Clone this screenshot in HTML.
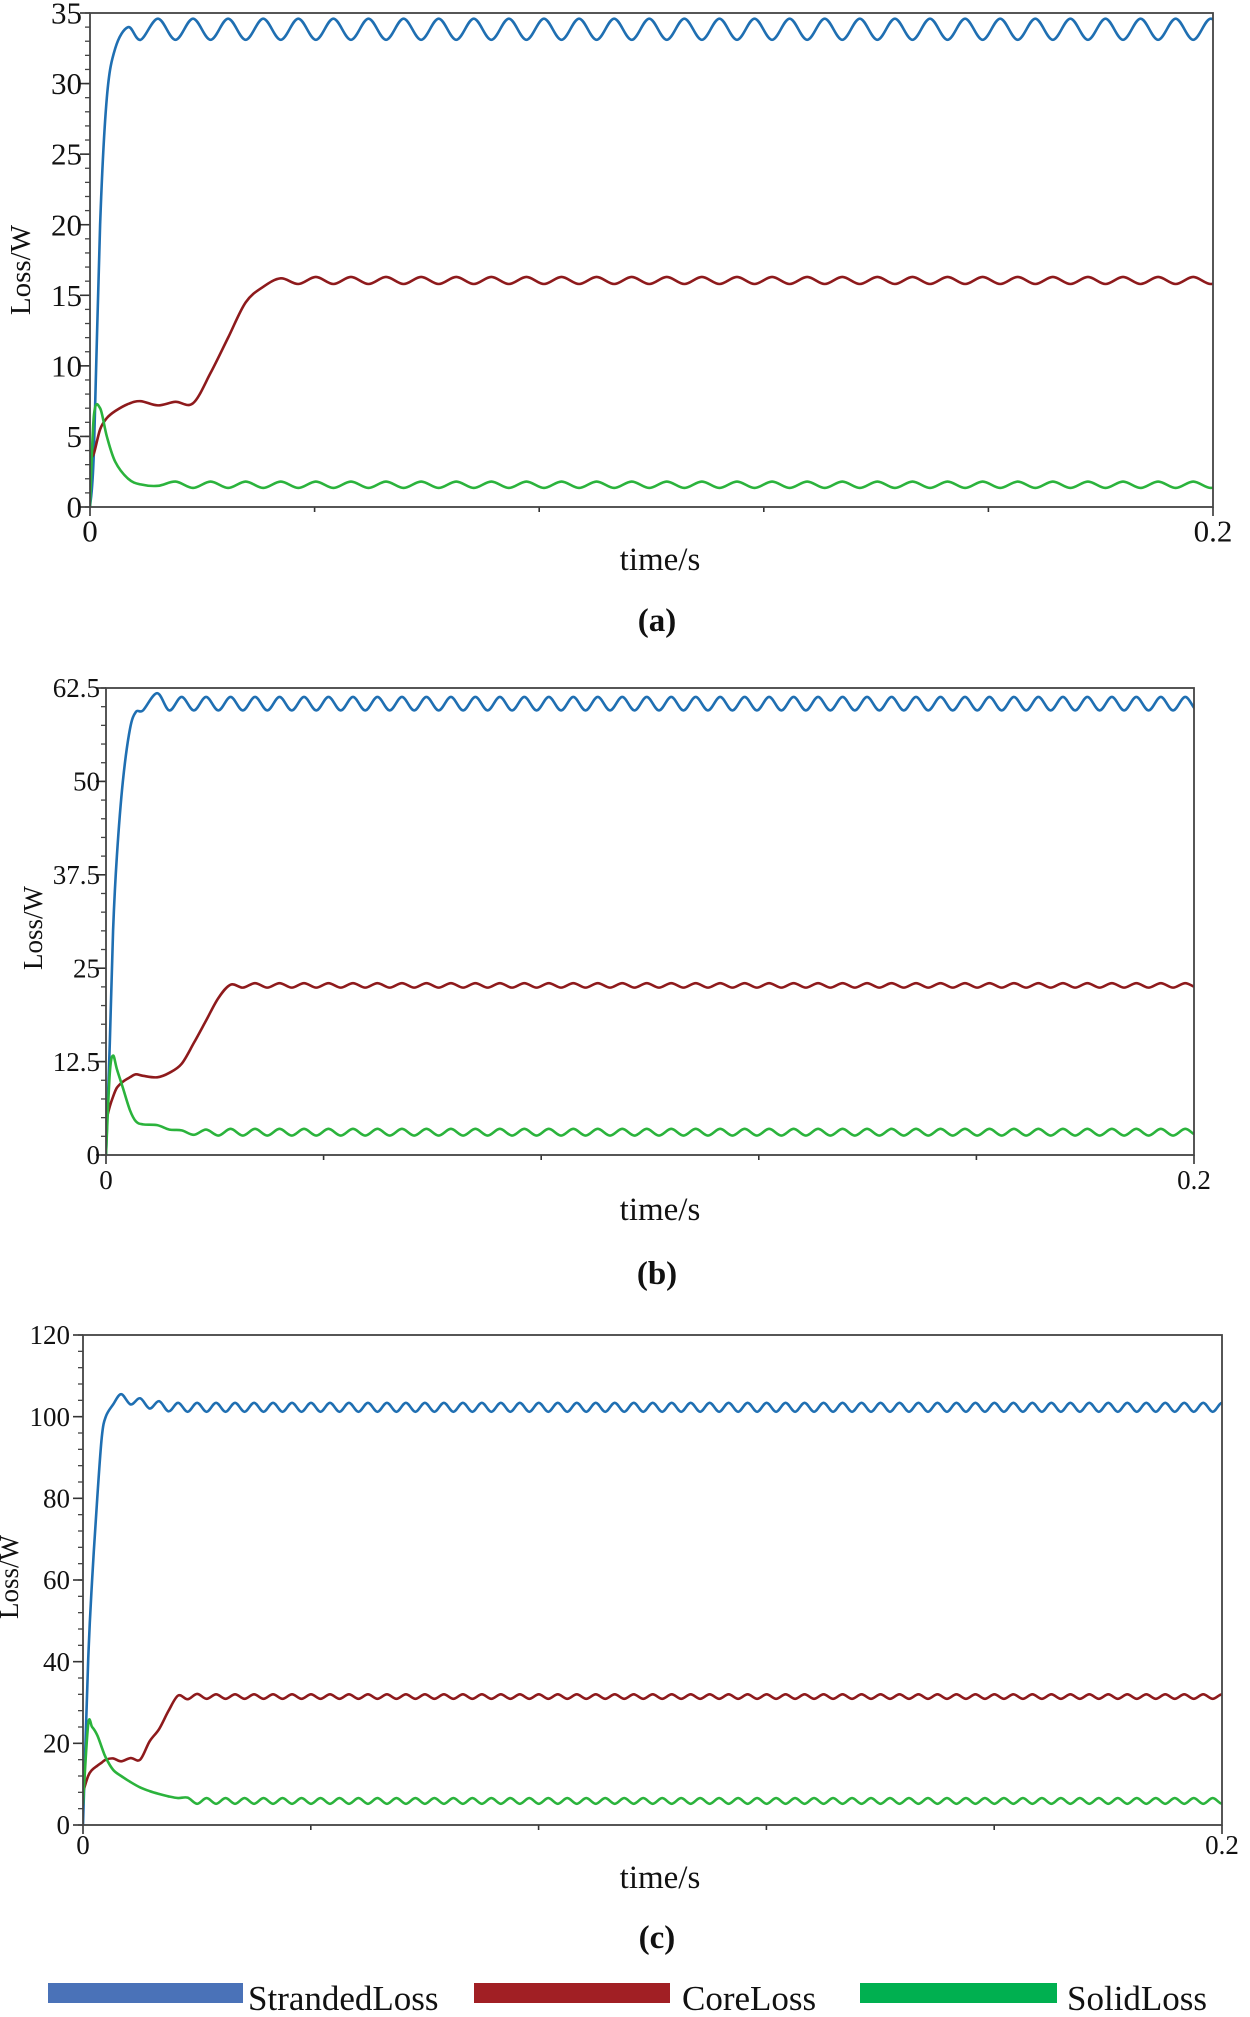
<!DOCTYPE html>
<html><head><meta charset="utf-8"><title>Loss curves</title>
<style>
html,body{margin:0;padding:0;background:#fff;}
svg{display:block;}
text{font-family:"Liberation Serif","DejaVu Serif",serif;fill:#111;}
</style></head>
<body>
<svg id="chart" width="1250" height="2017" viewBox="0 0 1250 2017" xmlns="http://www.w3.org/2000/svg">
<defs>
<clipPath id="clipA"><rect x="90" y="13" width="1123" height="494"/></clipPath>
<clipPath id="clipB"><rect x="106" y="688" width="1088" height="467"/></clipPath>
<clipPath id="clipC"><rect x="83" y="1335" width="1139" height="490"/></clipPath>
</defs>
<g id="panelA"></g>
<g id="panelB"></g>
<g id="panelC"></g>
<g id="legend">
<g>
<rect x="48" y="1983" width="195" height="20" fill="#4a72b8"/>
<text x="248" y="2010" font-size="35">StrandedLoss</text></g>
<g>
<rect x="474" y="1983" width="196" height="20" fill="#a11f24"/>
<text x="682" y="2010" font-size="35">CoreLoss</text></g>
<g>
<rect x="860" y="1983" width="197" height="20" fill="#00b050"/>
<text x="1067" y="2010" font-size="35">SolidLoss</text></g>
</g>
</svg>
<script>
// ---------- shared x-axis ----------
const xTickValues=[0,0.04,0.08,0.12,0.16,0.2];
const xTickLabels=["0","","","","","0.2"];

// ---------- panel (a) data ----------
const aStartTimes=[0,0.0007,0.0018,0.003,0.0045,0.0068,0.009];
const aSteadyStart=0.0121;
const aSteadyStep=0.003125;
const aYTicks=[0,5,10,15,20,25,30,35];
const aStranded=[0,4,20,29,32.5,34.0,33.1,
34.6,33.1,34.6,33.1,34.6,33.1,34.6,33.1,34.6,33.1,
34.6,33.1,34.6,33.1,34.6,33.1,34.6,33.1,34.6,33.1,
34.6,33.1,34.6,33.1,34.6,33.1,34.6,33.1,34.6,33.1,
34.6,33.1,34.6,33.1,34.6,33.1,34.6,33.1,34.6,33.1,
34.6,33.1,34.6,33.1,34.6,33.1,34.6,33.1,34.6,33.1,
34.6,33.1,34.6,33.1,34.6,33.1,34.6,33.1,34.6,33.1,
34.6,33.1];
const aCore=[3.4,3.8,5.5,6.3,6.8,7.3,7.5,
7.2,7.45,7.35,9.5,12,14.5,15.6,16.2,15.8,
16.3,15.8,16.3,15.8,16.3,15.8,16.3,15.8,16.3,15.8,
16.3,15.8,16.3,15.8,16.3,15.8,16.3,15.8,16.3,15.8,
16.3,15.8,16.3,15.8,16.3,15.8,16.3,15.8,16.3,15.8,
16.3,15.8,16.3,15.8,16.3,15.8,16.3,15.8,16.3,15.8,
16.3,15.8,16.3,15.8,16.3,15.8,16.3,15.8,16.3,15.8,
16.3,15.8,16.3];
const aSolid=[0,6.5,7.0,5.0,3.2,2.0,1.6,
1.5,1.8,
1.35,1.8,1.35,1.8,1.35,1.8,1.35,1.8,1.35,1.8,
1.35,1.8,1.35,1.8,1.35,1.8,1.35,1.8,1.35,1.8,
1.35,1.8,1.35,1.8,1.35,1.8,1.35,1.8,1.35,1.8,
1.35,1.8,1.35,1.8,1.35,1.8,1.35,1.8,1.35,1.8,
1.35,1.8,1.35,1.8,1.35,1.8,1.35,1.8,1.35,1.8,
1.35,1.8,1.35,1.8,1.35,1.8,1.35,1.8,
1.35,1.8];

// ---------- panel (b) data ----------
const bStartTimes=[0,0.0007,0.0013,0.002,0.0031,0.0044,0.0055,0.0068];
const bSteadyStart=0.0094;
const bSteadyStep=0.00225;
const bYTicks=[0,12.5,25,37.5,50,62.5];
const bStranded=[0,15,30,40,50,57,59.3,59.5,
61.8,59.5,
61.3,59.5,61.3,59.5,61.3,59.5,61.3,59.5,61.3,59.5,
61.3,59.5,61.3,59.5,61.3,59.5,61.3,59.5,61.3,59.5,
61.3,59.5,61.3,59.5,61.3,59.5,61.3,59.5,61.3,59.5,
61.3,59.5,61.3,59.5,61.3,59.5,61.3,59.5,61.3,59.5,
61.3,59.5,61.3,59.5,61.3,59.5,61.3,59.5,61.3,59.5,
61.3,59.5,61.3,59.5,61.3,59.5,61.3,59.5,61.3,59.5,
61.3,59.5,61.3,59.5,61.3,59.5,61.3,59.5,61.3,59.5,
61.3,59.5,61.3,59.5,61.3,59.5,61.3,59.5,61.3,59.5,
61.3,59.5,61.3,59.5,61.3,59.5];
const bCore=[4.5,6.5,7.8,9.0,9.8,10.4,10.8,10.6,
10.4,11.0,12.2,15,18,21,22.8,22.4,23.0,
22.4,23.0,22.4,23.0,22.4,23.0,22.4,23.0,22.4,23.0,
22.4,23.0,22.4,23.0,22.4,23.0,22.4,23.0,22.4,23.0,
22.4,23.0,22.4,23.0,22.4,23.0,22.4,23.0,22.4,23.0,
22.4,23.0,22.4,23.0,22.4,23.0,22.4,23.0,22.4,23.0,
22.4,23.0,22.4,23.0,22.4,23.0,22.4,23.0,22.4,23.0,
22.4,23.0,22.4,23.0,22.4,23.0,22.4,23.0,22.4,23.0,
22.4,23.0,22.4,23.0,22.4,23.0,22.4,23.0,22.4,23.0,
22.4,23.0,22.4,23.0,22.4,23.0,
22.4,23.0,22.4];
const bSolid=[0,11,13.3,11.5,9,6,4.5,4.1,
4.0,3.4,3.3,2.7,3.4,
2.6,3.5,2.6,3.5,2.6,3.5,2.6,3.5,2.6,3.5,
2.6,3.5,2.6,3.5,2.6,3.5,2.6,3.5,2.6,3.5,
2.6,3.5,2.6,3.5,2.6,3.5,2.6,3.5,2.6,3.5,
2.6,3.5,2.6,3.5,2.6,3.5,2.6,3.5,2.6,3.5,
2.6,3.5,2.6,3.5,2.6,3.5,2.6,3.5,2.6,3.5,
2.6,3.5,2.6,3.5,2.6,3.5,2.6,3.5,2.6,3.5,
2.6,3.5,2.6,3.5,2.6,3.5,2.6,3.5,2.6,3.5,
2.6,3.5,2.6,3.5,2.6,3.5,2.6,3.5,2.6,3.5,
2.6,3.5,2.6];

// ---------- panel (c) data ----------
const cStartTimes=[0,0.0009,0.0016,0.0025,0.0033,0.004,0.0053];
const cSteadyStart=0.0067;
const cSteadyStep=0.0016667;
const cYTicks=[0,20,40,60,80,100,120];
const cStranded=[0,40,60,80,95,100,103,
105.5,103,104.5,102,103.8,101.3,
103.4,101.2,103.4,101.2,103.4,101.2,103.4,101.2,103.4,101.2,
103.4,101.2,103.4,101.2,103.4,101.2,103.4,101.2,103.4,101.2,
103.4,101.2,103.4,101.2,103.4,101.2,103.4,101.2,103.4,101.2,
103.4,101.2,103.4,101.2,103.4,101.2,103.4,101.2,103.4,101.2,
103.4,101.2,103.4,101.2,103.4,101.2,103.4,101.2,103.4,101.2,
103.4,101.2,103.4,101.2,103.4,101.2,103.4,101.2,103.4,101.2,
103.4,101.2,103.4,101.2,103.4,101.2,103.4,101.2,103.4,101.2,
103.4,101.2,103.4,101.2,103.4,101.2,103.4,101.2,103.4,101.2,
103.4,101.2,103.4,101.2,103.4,101.2,103.4,101.2,103.4,101.2,
103.4,101.2,103.4,101.2,103.4,101.2,103.4,101.2,103.4,101.2,
103.4,101.2,103.4,101.2,103.4,101.2,103.4,101.2,103.4,101.2,
103.4,101.2,103.4,101.2,103.4,101.2];
const cCore=[8,12,13.5,14.5,15.3,16.0,16.3,
15.6,16.4,16.0,20.5,23.5,28,31.7,30.8,32.1,
30.9,32.0,30.9,32.0,30.9,32.0,30.9,32.0,30.9,32.0,
30.9,32.0,30.9,32.0,30.9,32.0,30.9,32.0,30.9,32.0,
30.9,32.0,30.9,32.0,30.9,32.0,30.9,32.0,30.9,32.0,
30.9,32.0,30.9,32.0,30.9,32.0,30.9,32.0,30.9,32.0,
30.9,32.0,30.9,32.0,30.9,32.0,30.9,32.0,30.9,32.0,
30.9,32.0,30.9,32.0,30.9,32.0,30.9,32.0,30.9,32.0,
30.9,32.0,30.9,32.0,30.9,32.0,30.9,32.0,30.9,32.0,
30.9,32.0,30.9,32.0,30.9,32.0,30.9,32.0,30.9,32.0,
30.9,32.0,30.9,32.0,30.9,32.0,30.9,32.0,30.9,32.0,
30.9,32.0,30.9,32.0,30.9,32.0,30.9,32.0,30.9,32.0,
30.9,32.0,30.9,32.0,30.9,32.0,30.9,32.0,30.9,32.0,
30.9,32.0,30.9,32.0,30.9,32.0,30.9,32.0];
const cSolid=[5,24.5,24,22,19,16.5,13.5,
12,10.5,9.2,8.3,7.6,7.0,6.6,6.7,
5.2,6.6,5.2,6.6,5.2,6.6,5.2,6.6,5.2,6.6,
5.2,6.6,5.2,6.6,5.2,6.6,5.2,6.6,5.2,6.6,
5.2,6.6,5.2,6.6,5.2,6.6,5.2,6.6,5.2,6.6,
5.2,6.6,5.2,6.6,5.2,6.6,5.2,6.6,5.2,6.6,
5.2,6.6,5.2,6.6,5.2,6.6,5.2,6.6,5.2,6.6,
5.2,6.6,5.2,6.6,5.2,6.6,5.2,6.6,5.2,6.6,
5.2,6.6,5.2,6.6,5.2,6.6,5.2,6.6,5.2,6.6,
5.2,6.6,5.2,6.6,5.2,6.6,5.2,6.6,5.2,6.6,
5.2,6.6,5.2,6.6,5.2,6.6,5.2,6.6,5.2,6.6,
5.2,6.6,5.2,6.6,5.2,6.6,5.2,6.6,5.2,6.6,
5.2,6.6,5.2,6.6,5.2,6.6,5.2,6.6,5.2,6.6,
5.2,6.6,5.2,6.6,5.2,6.6,5.2,6.6,5.2,6.6];

// ---------- rendering ----------
const NS="http://www.w3.org/2000/svg";
function mk(tag,attrs,parent){const e=document.createElementNS(NS,tag);for(const k in attrs)e.setAttribute(k,attrs[k]);if(parent)parent.appendChild(e);return e;}
function timesFor(startTimes,t0,step,n){const out=[];for(let i=0;i<n;i++){out.push(i<startTimes.length?startTimes[i]:t0+(i-startTimes.length)*step);}return out;}
function smoothPath(pts){
  let d="M"+pts[0][0].toFixed(2)+","+pts[0][1].toFixed(2);
  for(let i=0;i<pts.length-1;i++){
    const p0=pts[Math.max(0,i-1)],p1=pts[i],p2=pts[i+1],p3=pts[Math.min(pts.length-1,i+2)];
    const c1x=p1[0]+(p2[0]-p0[0])/6,c1y=p1[1]+(p2[1]-p0[1])/6;
    const c2x=p2[0]-(p3[0]-p1[0])/6,c2y=p2[1]-(p3[1]-p1[1])/6;
    d+=" C"+c1x.toFixed(2)+","+c1y.toFixed(2)+" "+c2x.toFixed(2)+","+c2y.toFixed(2)+" "+p2[0].toFixed(2)+","+p2[1].toFixed(2);
  }
  return d;
}
function drawPanel(cfg){
  const g=document.getElementById(cfg.id);
  const xs=t=>cfg.x0+(t/0.2)*(cfg.x1-cfg.x0);
  const ys=v=>cfg.y0-(v/cfg.yMax)*(cfg.y0-cfg.y1);
  for(let v=0;v<=cfg.yMax+1e-9;v+=cfg.minor){
    const t=mk("line",{x1:cfg.x0-5,x2:cfg.x0,y1:ys(v),y2:ys(v),stroke:"#444","stroke-width":1.3},g);
    
    
  }
  cfg.yTicks.forEach(v=>{
    const t=mk("line",{x1:cfg.x0-10,x2:cfg.x0,y1:ys(v),y2:ys(v),stroke:"#333","stroke-width":1.6},g);
    
    
    const lb=mk("text",{x:cfg.x0-cfg.labelGap,y:ys(v)+cfg.font*0.34,"font-size":cfg.font,"text-anchor":"end"},g);
    lb.textContent=String(v);
    
    
  });
  xTickValues.forEach((v,i)=>{
    const t=mk("line",{x1:xs(v),x2:xs(v),y1:cfg.y0,y2:cfg.y0+(i===0||i===xTickValues.length-1?9:5),stroke:"#333","stroke-width":1.6},g);
    
    
    if(xTickLabels[i]){
      const lb=mk("text",{x:xs(v),y:cfg.xLabelY+cfg.font*0.34,"font-size":cfg.font,"text-anchor":"middle"},g);
      lb.textContent=xTickLabels[i];
      
      
    }
  });
  const lines=mk("g",{"clip-path":"url(#"+cfg.clip+")"},g);
  
  
  cfg.series.forEach(s=>{
    const tt=timesFor(cfg.startTimes,cfg.t0,cfg.step,s.values.length);
    const pts=s.values.map((v,i)=>[xs(tt[i]),ys(v)]);
    const p=mk("path",{d:smoothPath(pts),fill:"none",stroke:s.color,"stroke-width":2.6,"stroke-linejoin":"round"},lines);
    
    
  });
  const fr=mk("rect",{x:cfg.x0,y:cfg.y1,width:cfg.x1-cfg.x0,height:cfg.y0-cfg.y1,fill:"none",stroke:"#444","stroke-width":1.8},g);
  
  
  const yt=mk("text",{x:0,y:0,"font-size":cfg.titleFont,"text-anchor":"middle",transform:"translate("+cfg.yTitleX+","+cfg.yTitleY+") rotate(-90)"},g);
  yt.textContent="Loss/W";
  
  
  const xt=mk("text",{x:660,y:cfg.xTitleY+11,"font-size":33,"text-anchor":"middle"},g);
  xt.textContent="time/s";
  
  
  const cap=mk("text",{x:657,y:cfg.capY+11,"font-size":33,"font-weight":"bold","text-anchor":"middle"},g);
  cap.textContent=cfg.caption;
  
  
}
const BLUE="#1f6fb2",RED="#8e1a1c",GREEN="#2bb33c";
drawPanel({id:"panelA",clip:"clipA",x0:90,x1:1213,y0:507,y1:13,yMax:35,minor:1,yTicks:aYTicks,font:31,labelGap:8,xLabelY:531,
  titleFont:29,yTitleX:30,yTitleY:270,xTitleY:559,capY:620,caption:"(a)",
  startTimes:aStartTimes,t0:aSteadyStart,step:aSteadyStep,
  series:[{name:"stranded-loss-line",color:BLUE,values:aStranded},{name:"core-loss-line",color:RED,values:aCore},{name:"solid-loss-line",color:GREEN,values:aSolid}]});
drawPanel({id:"panelB",clip:"clipB",x0:106,x1:1194,y0:1155,y1:688,yMax:62.5,minor:2.5,yTicks:bYTicks,font:27,labelGap:6,xLabelY:1180,
  titleFont:27,yTitleX:42,yTitleY:928,xTitleY:1209,capY:1273,caption:"(b)",
  startTimes:bStartTimes,t0:bSteadyStart,step:bSteadyStep,
  series:[{name:"stranded-loss-line",color:BLUE,values:bStranded},{name:"core-loss-line",color:RED,values:bCore},{name:"solid-loss-line",color:GREEN,values:bSolid}]});
drawPanel({id:"panelC",clip:"clipC",x0:83,x1:1222,y0:1825,y1:1335,yMax:120,minor:4,yTicks:cYTicks,font:27,labelGap:13,xLabelY:1845,
  titleFont:27,yTitleX:18,yTitleY:1577,xTitleY:1877,capY:1937,caption:"(c)",
  startTimes:cStartTimes,t0:cSteadyStart,step:cSteadyStep,
  series:[{name:"stranded-loss-line",color:BLUE,values:cStranded},{name:"core-loss-line",color:RED,values:cCore},{name:"solid-loss-line",color:GREEN,values:cSolid}]});
</script>
</body></html>
